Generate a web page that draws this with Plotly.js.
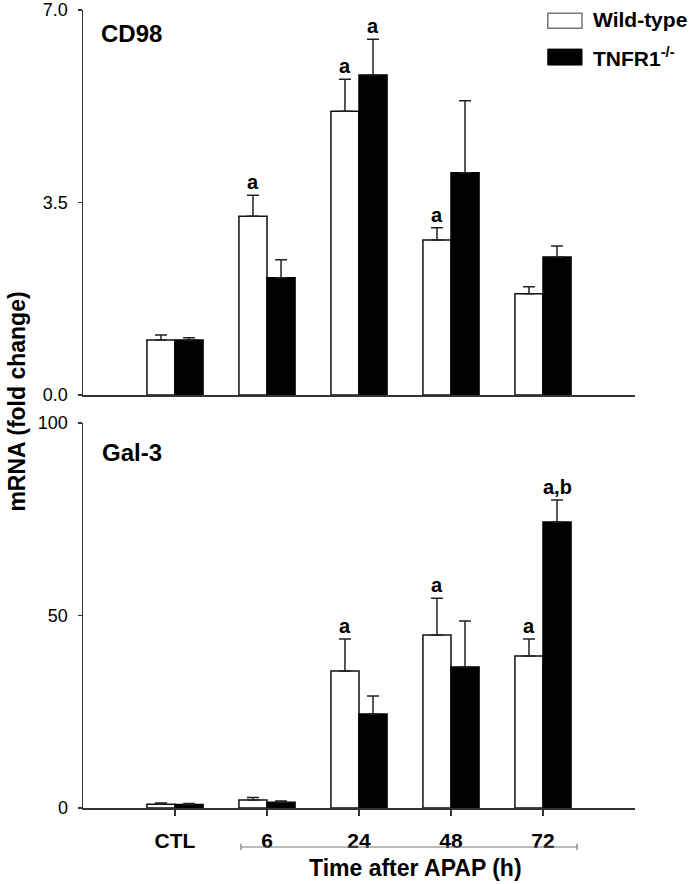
<!DOCTYPE html>
<html>
<head>
<meta charset="utf-8">
<script src="https://cdn.plot.ly/plotly-3.0.1.min.js"></script>
<style>html,body{margin:0;padding:0;background:#fff;}#chart{width:693px;height:884px;}</style>
</head>
<body>
<div id="chart"></div>
<script>
// ---- data ----
const categories = ['CTL', '6', '24', '48', '72'];
const seriesNames = ['Wild-type', 'TNFR1<sup>-/-</sup>'];

// CD98 (top panel)
const cd98WT      = [1.00, 3.25, 5.16, 2.82, 1.84];
const cd98WTErr   = [0.09, 0.38, 0.58, 0.22, 0.13];
const cd98KO      = [1.00, 2.13, 5.82, 4.04, 2.51];
const cd98KOErr   = [0.04, 0.33, 0.65, 1.31, 0.20];
const cd98WTSig   = ['', 'a', 'a', 'a', ''];
const cd98KOSig   = ['', '', 'a', '', ''];

// Gal-3 (bottom panel)
const gal3WT      = [1.0, 2.1, 35.6, 44.9, 39.5];
const gal3WTErr   = [0.3, 0.6, 8.3, 9.6, 4.4];
const gal3KO      = [0.9, 1.5, 24.4, 36.6, 74.3];
const gal3KOErr   = [0.3, 0.3, 4.7, 12.0, 5.7];
const gal3WTSig   = ['', '', 'a', 'a', 'a'];
const gal3KOSig   = ['', '', '', '', 'a,b'];

const cd98Ticks = [0, 3.5, 7];
const cd98TickText = ['0.0', '3.5', '7.0'];
const gal3Ticks = [0, 50, 100];
const gal3TickText = ['0', '50', '100'];

// ---- style ----
const FONT = 'Liberation Sans, Arial, Helvetica, sans-serif';
const AX = '#333';
const half = 0.1525;

function zeros(n){ return new Array(n).fill(0); }

function barTrace(vals, errs, isWT, xa, ya, name){
  return {
    type: 'bar', x: categories, y: vals, name: name,
    xaxis: xa, yaxis: ya, showlegend: false,
    marker: isWT ? {color: '#ffffff', line: {color: '#111', width: 1.5}}
                 : {color: '#000000', line: {color: '#000', width: 1.5}},
    error_y: {type: 'data', symmetric: false, array: errs, arrayminus: zeros(errs.length),
              color: '#222', thickness: 1.5, width: 6},
    hoverinfo: 'skip'
  };
}

const data = [
  barTrace(cd98WT, cd98WTErr, true,  'x',  'y',  seriesNames[0]),
  barTrace(cd98KO, cd98KOErr, false, 'x',  'y',  seriesNames[1]),
  barTrace(gal3WT, gal3WTErr, true,  'x2', 'y2', seriesNames[0]),
  barTrace(gal3KO, gal3KOErr, false, 'x2', 'y2', seriesNames[1])
];

const annotations = [];
function sigAnn(sig, vals, errs, offset, xref, yref){
  sig.forEach((s, i) => {
    if (!s) return;
    annotations.push({
      xref: xref, yref: yref, x: i + offset, y: vals[i] + errs[i],
      text: '<b>' + s + '</b>', showarrow: false, yanchor: 'bottom', xanchor: 'center',
      yshift: 0, font: {family: FONT, size: 20, color: '#000'}
    });
  });
}
sigAnn(cd98WTSig, cd98WT, cd98WTErr, -half, 'x', 'y');
sigAnn(cd98KOSig, cd98KO, cd98KOErr,  half, 'x', 'y');
sigAnn(gal3WTSig, gal3WT, gal3WTErr, -half, 'x2', 'y2');
sigAnn(gal3KOSig, gal3KO, gal3KOErr,  half, 'x2', 'y2');

// panel labels
annotations.push({xref: 'paper', yref: 'paper', x: 0.029, y: 0.971, xanchor: 'left', yanchor: 'middle',
  text: '<b>CD98</b>', showarrow: false, font: {family: FONT, size: 24, color: '#000'}});
annotations.push({xref: 'paper', yref: 'paper', x: 0.030, y: 0.446, xanchor: 'left', yanchor: 'middle',
  text: '<b>Gal-3</b>', showarrow: false, font: {family: FONT, size: 24, color: '#000'}});
// y title
annotations.push({xref: 'paper', yref: 'paper', x: -0.12, y: 0.509, xanchor: 'center', yanchor: 'middle',
  textangle: -90, text: '<b>mRNA (fold change)</b>', showarrow: false,
  font: {family: FONT, size: 23, color: '#000'}});
// x title
annotations.push({xref: 'x2', yref: 'paper', x: 2.61, y: -0.075, xanchor: 'center', yanchor: 'middle',
  text: '<b>Time after APAP (h)</b>', showarrow: false, font: {family: FONT, size: 23, color: '#000'}});
// legend text
annotations.push({xref: 'paper', yref: 'paper', x: 0.920, y: 0.9875, xanchor: 'left', yanchor: 'middle',
  text: '<b>' + seriesNames[0] + '</b>', showarrow: false, font: {family: FONT, size: 21, color: '#000'}});
annotations.push({xref: 'paper', yref: 'paper', x: 0.920, y: 0.941, xanchor: 'left', yanchor: 'middle',
  text: '<b>' + seriesNames[1] + '</b>', showarrow: false, font: {family: FONT, size: 21, color: '#000'}});

const shapes = [
  // legend swatches
  {type: 'rect', xref: 'paper', yref: 'paper', x0: 0.842, x1: 0.904, y0: 0.977, y1: 0.996,
   fillcolor: '#fff', line: {color: '#777', width: 1.5}},
  {type: 'rect', xref: 'paper', yref: 'paper', x0: 0.842, x1: 0.904, y0: 0.931, y1: 0.951,
   fillcolor: '#000', line: {color: '#000', width: 1}},
  // bracket under time points
  {type: 'line', xref: 'x2', yref: 'paper', x0: 0.717, x1: 4.37, y0: -0.0489, y1: -0.0489,
   line: {color: '#777', width: 1.2}},
  {type: 'line', xref: 'x2', yref: 'paper', x0: 0.717, x1: 0.717, y0: -0.0449, y1: -0.0529,
   line: {color: '#777', width: 1.2}},
  {type: 'line', xref: 'x2', yref: 'paper', x0: 4.37, x1: 4.37, y0: -0.0449, y1: -0.0529,
   line: {color: '#777', width: 1.2}}
];

const yCommon = {
  showgrid: false, zeroline: false, showline: true, linecolor: AX, linewidth: 1.5,
  ticks: 'outside', ticklen: 4, tickwidth: 1.2, tickcolor: AX, ticklabelstandoff: 6,
  tickfont: {family: FONT, size: 18, color: '#000'}, tickmode: 'array'
};

const layout = {
  width: 693, height: 884,
  margin: {l: 83, r: 58, t: 10, b: 76},
  paper_bgcolor: '#fff', plot_bgcolor: '#fff',
  barmode: 'group', bargap: 0.39, bargroupgap: 0,
  showlegend: false,
  xaxis: {domain: [0, 1], anchor: 'y', type: 'category', range: [-1, 5],
          showticklabels: false, ticks: '', showgrid: false, zeroline: false,
          showline: true, linecolor: AX, linewidth: 1.5},
  yaxis: Object.assign({}, yCommon, {domain: [0.5175, 1], anchor: 'x', range: [0, 7],
          tickvals: cd98Ticks, ticktext: cd98TickText}),
  xaxis2: {domain: [0, 1], anchor: 'y2', type: 'category', range: [-1, 5],
          ticks: 'outside', ticklen: 6, tickwidth: 1.2, tickcolor: AX, ticklabelstandoff: 7,
          tickfont: {family: FONT, size: 21, color: '#000', weight: 'bold'},
          showgrid: false, zeroline: false, showline: true, linecolor: AX, linewidth: 1.5},
  yaxis2: Object.assign({}, yCommon, {domain: [0, 0.4825], anchor: 'x2', range: [0, 100],
          tickvals: gal3Ticks, ticktext: gal3TickText}),
  annotations: annotations,
  shapes: shapes
};

Plotly.newPlot('chart', data, layout, {displayModeBar: false, staticPlot: true});
</script>
</body>
</html>
